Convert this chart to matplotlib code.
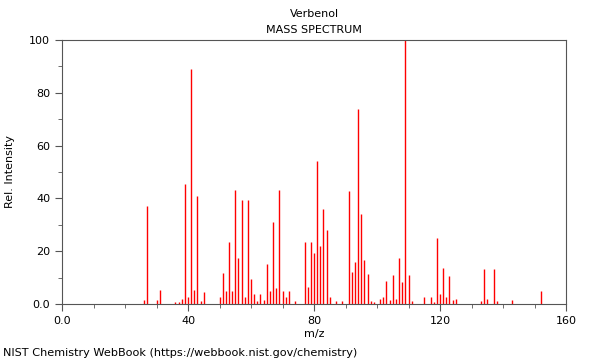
import matplotlib
matplotlib.use("Agg")
import matplotlib.pyplot as plt
from matplotlib.ticker import MultipleLocator, FixedFormatter, FixedLocator

# peak list (m/z, relative intensity)
mz = [26, 27, 30, 31, 36, 37, 38, 39, 40, 41, 42, 43, 44, 45,
      50, 51, 52, 53, 54, 55, 56, 57, 58, 59, 60, 61, 62, 63, 64, 65, 66, 67, 68, 69,
      70, 71, 72, 74, 77, 78, 79, 80, 81, 82, 83, 84, 85, 87, 89,
      91, 92, 93, 94, 95, 96, 97, 98, 99, 101, 102, 103, 104, 105, 106, 107, 108, 109, 110, 111,
      115, 117, 118, 119, 120, 121, 122, 123, 124, 125,
      133, 134, 135, 137, 138, 143, 152]
intensity = [1.5, 37, 1.5, 5.3, 0.8, 0.8, 1.9, 45.3, 2.6, 89, 5.3, 40.9, 1.0, 4.7,
             2.8, 11.6, 4.8, 23.4, 4.8, 43, 17.5, 39.5, 2.5, 39.4, 9.5, 3.8, 1.0, 3.8, 1.5, 15.2, 4.9, 31.2, 6.2, 43,
             4.9, 2.6, 5.1, 1.0, 23.5, 6.4, 23.5, 19.2, 54, 22, 36, 28, 2.5, 1.0, 1.2,
             42.8, 12.2, 16, 74, 34, 16.8, 11.5, 1.2, 0.7, 2.0, 2.6, 8.7, 1.4, 11, 1.9, 17.5, 8.2, 100, 11, 1.1,
             2.5, 2.7, 0.6, 25, 3.7, 13.6, 2.7, 10.6, 1.4, 1.9,
             1.1, 13.3, 1.9, 13.3, 1.1, 1.5, 4.9]

fig = plt.figure(figsize=(6, 3.6), dpi=100)
ax = fig.add_axes([62/600, 1-304/360, 504/600, 264/360])

ax.vlines(mz, 0, intensity, color='red', linewidth=1)

ax.set_xlim(0, 160)
ax.set_ylim(0, 100)

ax.xaxis.set_major_locator(FixedLocator([0, 40, 80, 120, 160]))
ax.xaxis.set_major_formatter(FixedFormatter(['0.0', '40', '80', '120', '160']))
ax.xaxis.set_minor_locator(MultipleLocator(10))
ax.yaxis.set_major_locator(FixedLocator([0, 20, 40, 60, 80, 100]))
ax.yaxis.set_major_formatter(FixedFormatter(['0.0', '20', '40', '60', '80', '100']))
ax.yaxis.set_minor_locator(MultipleLocator(10))

for s in ax.spines.values():
    s.set_color('#555555')
ax.tick_params(which='both', colors='#555555', labelcolor='black', labelsize=8)
ax.tick_params(which='major', length=5)
ax.tick_params(which='minor', length=3)

ax.set_xlabel('m/z', fontsize=8, labelpad=2)
ax.set_ylabel('Rel. Intensity', fontsize=8)
ax.yaxis.set_label_coords(-0.093, 0.5)

fig.text(0.5 * (62 + 566) / 600, 1 - 14/360, 'Verbenol', ha='center', va='center', fontsize=8)
fig.text(0.5 * (62 + 566) / 600, 1 - 30/360, 'MASS SPECTRUM', ha='center', va='center', fontsize=8)
fig.text(3/600, 1 - 353/360, 'NIST Chemistry WebBook (https://webbook.nist.gov/chemistry)',
         ha='left', va='center', fontsize=8.15)

fig.savefig('out.png', dpi=100)
